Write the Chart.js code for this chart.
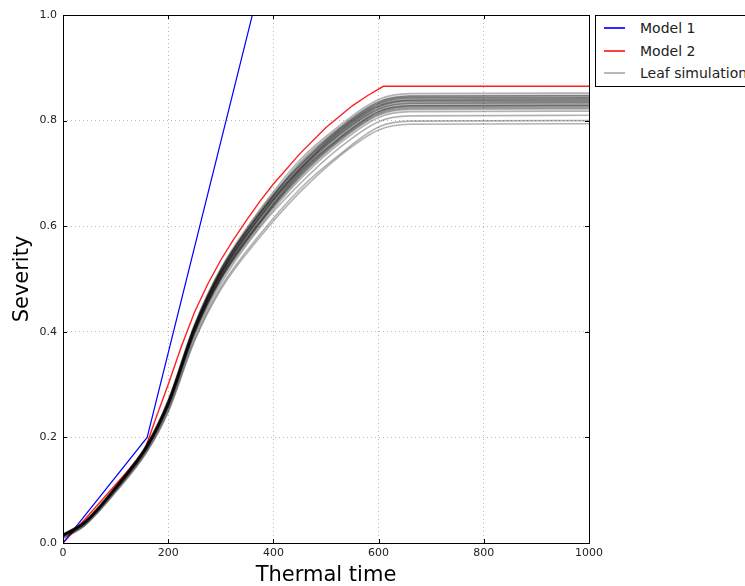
<!DOCTYPE html>
<html>
<head>
<meta charset="utf-8">
<script src="https://cdn.jsdelivr.net/npm/chart.js@4/dist/chart.umd.min.js"></script>
<style>
  html, body { margin: 0; padding: 0; background: #fff; }
  body { width: 745px; height: 586px; overflow: hidden; position: relative; font-family: "DejaVu Sans", sans-serif; }
  #c { position: absolute; left: 0; top: 0; }
  .legend { position: absolute; left: 595px; top: 15px; width: 200px; height: 70px; border: 1px solid #000; background: #fff; }
  .legend .row { position: absolute; left: 0; height: 20px; width: 200px; }
  .legend .swatch { position: absolute; left: 8px; top: 9px; width: 21px; height: 2px; }
  .legend .lbl { position: absolute; left: 44px; top: 0; line-height: 20px; font-size: 14px; color: #222; white-space: nowrap; }
</style>
</head>
<body>
<canvas id="c" width="745" height="586"></canvas>
<div class="legend">
  <div class="row" style="top:2px"><span class="swatch" style="background:#2a2aff"></span><span class="lbl">Model 1</span></div>
  <div class="row" style="top:25px"><span class="swatch" style="background:#ff4040"></span><span class="lbl">Model 2</span></div>
  <div class="row" style="top:47px"><span class="swatch" style="background:#b8b8b8"></span><span class="lbl">Leaf simulation</span></div>
</div>
<script>
// axis ticks
const xTicks = [0, 200, 400, 600, 800, 1000];
const yTicks = [0, 0.2, 0.4, 0.6, 0.8, 1.0];

// Model 1 — two straight segments, runs off the top
const model1X = [0, 160, 420];
const model1Y = [0.0, 0.2, 1.24];

// Model 2 — rises to a plateau at 609
const model2X = [0, 40, 80, 120, 155, 175, 200, 225, 250, 275, 300, 325, 350, 375, 400, 450, 500, 550, 580, 609, 1000];
const model2Y = [0.0, 0.043, 0.088, 0.133, 0.175, 0.232, 0.300, 0.372, 0.437, 0.490, 0.536, 0.576, 0.613, 0.648, 0.680, 0.737, 0.787, 0.828, 0.848, 0.865, 0.865];

// leaf simulations, all sampled at the same thermal times
const leafX = [0, 40, 100, 160, 200, 250, 300, 375, 450, 525, 600, 660, 1000];
const leaf01 = [0.017, 0.040, 0.107, 0.188, 0.271, 0.414, 0.520, 0.632, 0.725, 0.790, 0.840, 0.851, 0.852];
const leaf02 = [0.017, 0.040, 0.107, 0.187, 0.269, 0.412, 0.518, 0.625, 0.720, 0.786, 0.836, 0.847, 0.848];
const leaf03 = [0.016, 0.039, 0.106, 0.186, 0.268, 0.410, 0.516, 0.626, 0.715, 0.783, 0.833, 0.844, 0.845];
const leaf04 = [0.016, 0.039, 0.105, 0.185, 0.267, 0.409, 0.513, 0.623, 0.712, 0.780, 0.830, 0.841, 0.842];
const leaf05 = [0.015, 0.038, 0.105, 0.184, 0.266, 0.407, 0.511, 0.620, 0.709, 0.777, 0.827, 0.838, 0.839];
const leaf06 = [0.015, 0.038, 0.104, 0.184, 0.264, 0.405, 0.509, 0.617, 0.706, 0.774, 0.824, 0.835, 0.836];
const leaf07 = [0.014, 0.037, 0.104, 0.183, 0.263, 0.404, 0.507, 0.615, 0.703, 0.771, 0.821, 0.832, 0.833];
const leaf08 = [0.014, 0.037, 0.103, 0.182, 0.262, 0.402, 0.505, 0.612, 0.700, 0.768, 0.818, 0.829, 0.830];
const leaf09 = [0.013, 0.036, 0.102, 0.181, 0.260, 0.400, 0.502, 0.608, 0.696, 0.764, 0.814, 0.825, 0.826];
const leaf10 = [0.013, 0.036, 0.101, 0.180, 0.259, 0.398, 0.499, 0.605, 0.692, 0.760, 0.810, 0.821, 0.822];
const leaf11 = [0.012, 0.035, 0.101, 0.179, 0.257, 0.395, 0.497, 0.601, 0.688, 0.756, 0.806, 0.817, 0.818];
const leaf12 = [0.011, 0.034, 0.099, 0.177, 0.254, 0.391, 0.491, 0.598, 0.680, 0.748, 0.798, 0.809, 0.810];
const leaf13 = [0.009, 0.032, 0.097, 0.174, 0.250, 0.385, 0.484, 0.585, 0.670, 0.735, 0.788, 0.799, 0.800];
const leaf14 = [0.009, 0.032, 0.096, 0.173, 0.248, 0.382, 0.480, 0.580, 0.664, 0.732, 0.782, 0.793, 0.794];
const leaf15 = [0.015, 0.038, 0.105, 0.184, 0.266, 0.408, 0.512, 0.624, 0.708, 0.779, 0.828, 0.839, 0.840];
const leaf16 = [0.014, 0.037, 0.103, 0.182, 0.262, 0.401, 0.503, 0.610, 0.701, 0.766, 0.817, 0.828, 0.829];
const leaf17 = [0.014, 0.037, 0.104, 0.183, 0.264, 0.405, 0.509, 0.618, 0.705, 0.773, 0.822, 0.833, 0.834];
const leaf18 = [0.015, 0.038, 0.104, 0.184, 0.265, 0.406, 0.510, 0.619, 0.708, 0.776, 0.826, 0.837, 0.837];
const leaf19 = [0.014, 0.036, 0.102, 0.181, 0.261, 0.400, 0.503, 0.609, 0.698, 0.766, 0.816, 0.827, 0.828];
const leaf20 = [0.016, 0.039, 0.106, 0.186, 0.268, 0.410, 0.515, 0.627, 0.714, 0.782, 0.832, 0.843, 0.843];
const leaf21 = [0.016, 0.039, 0.106, 0.187, 0.269, 0.411, 0.517, 0.630, 0.717, 0.785, 0.835, 0.846, 0.847];
const leaf22 = [0.013, 0.036, 0.102, 0.180, 0.259, 0.399, 0.500, 0.606, 0.694, 0.762, 0.812, 0.823, 0.824];
const leaves = [leaf01, leaf02, leaf03, leaf04, leaf05, leaf06, leaf07, leaf08, leaf09, leaf10, leaf11,
                leaf12, leaf13, leaf14, leaf15, leaf16, leaf17, leaf18, leaf19, leaf20, leaf21, leaf22];

const pts = (xs, ys) => xs.map((x, i) => ({ x, y: ys[i] }));
const FONT = "'DejaVu Sans', sans-serif";
const GRID = "rgba(0,0,0,0.28)";

const datasets = [
  { label: "Model 1", data: pts(model1X, model1Y), borderColor: "#0000ff", borderWidth: 1.2, tension: 0, order: 2 },
  { label: "Model 2", data: pts(model2X, model2Y), borderColor: "#ff2020", borderWidth: 1.4, tension: 0, order: 2 },
  ...leaves.map((ys, i) => ({
    label: i === 0 ? "Leaf simulation" : "",
    data: pts(leafX, ys),
    borderColor: "rgba(0,0,0,0.3)",
    borderWidth: 1.6,
    cubicInterpolationMode: "monotone",
    order: 1,
  })),
];

// black frame round the plot plus matplotlib-style inward ticks on all four sides
const frame = {
  id: "frame",
  afterDraw(chart) {
    const { ctx, chartArea: a, scales } = chart;
    ctx.save();
    ctx.strokeStyle = "#000";
    ctx.lineWidth = 1;
    ctx.beginPath();
    for (const v of xTicks) {
      const px = Math.round(scales.x.getPixelForValue(v)) + 0.5;
      ctx.moveTo(px, a.bottom); ctx.lineTo(px, a.bottom - 4);
      ctx.moveTo(px, a.top); ctx.lineTo(px, a.top + 4);
    }
    for (const v of yTicks) {
      const py = Math.round(scales.y.getPixelForValue(v)) + 0.5;
      ctx.moveTo(a.left, py); ctx.lineTo(a.left + 4, py);
      ctx.moveTo(a.right, py); ctx.lineTo(a.right - 4, py);
    }
    ctx.stroke();
    ctx.strokeRect(Math.round(a.left) + 0.5, Math.round(a.top) + 0.5, Math.round(a.right - a.left), Math.round(a.bottom - a.top));
    ctx.restore();
  },
};

new Chart(document.getElementById("c"), {
  type: "line",
  data: { datasets },
  options: {
    responsive: false,
    animation: false,
    devicePixelRatio: 1,
    elements: { point: { radius: 0 } },
    layout: { padding: { top: 15, right: 156, left: 0, bottom: 0 } },
    plugins: { legend: { display: false }, tooltip: { enabled: false } },
    scales: {
      x: {
        type: "linear",
        min: 0, max: 1000,
        afterBuildTicks: (s) => { s.ticks = xTicks.map((v) => ({ value: v })); },
        afterFit: (s) => { s.height = 43; },
        border: { display: false, dash: [1, 3] },
        grid: { color: GRID, drawTicks: false, lineWidth: 1 },
        ticks: { color: "#222", font: { family: FONT, size: 11 }, padding: 4, maxRotation: 0, callback: (v) => String(v) },
        title: { display: true, text: "Thermal time", color: "#000", font: { family: FONT, size: 21 }, padding: { top: 0, bottom: -2 } },
      },
      y: {
        min: 0, max: 1,
        afterBuildTicks: (s) => { s.ticks = yTicks.map((v) => ({ value: v })); },
        afterFit: (s) => { s.width = 63; },
        border: { display: false, dash: [1, 3] },
        grid: { color: GRID, drawTicks: false, lineWidth: 1 },
        ticks: { color: "#222", font: { family: FONT, size: 11 }, padding: 6, callback: (v) => v.toFixed(1) },
        title: { display: true, text: "Severity", color: "#000", font: { family: FONT, size: 21 }, padding: { top: 10, bottom: 0 } },
      },
    },
  },
  plugins: [frame],
});
</script>
</body>
</html>
